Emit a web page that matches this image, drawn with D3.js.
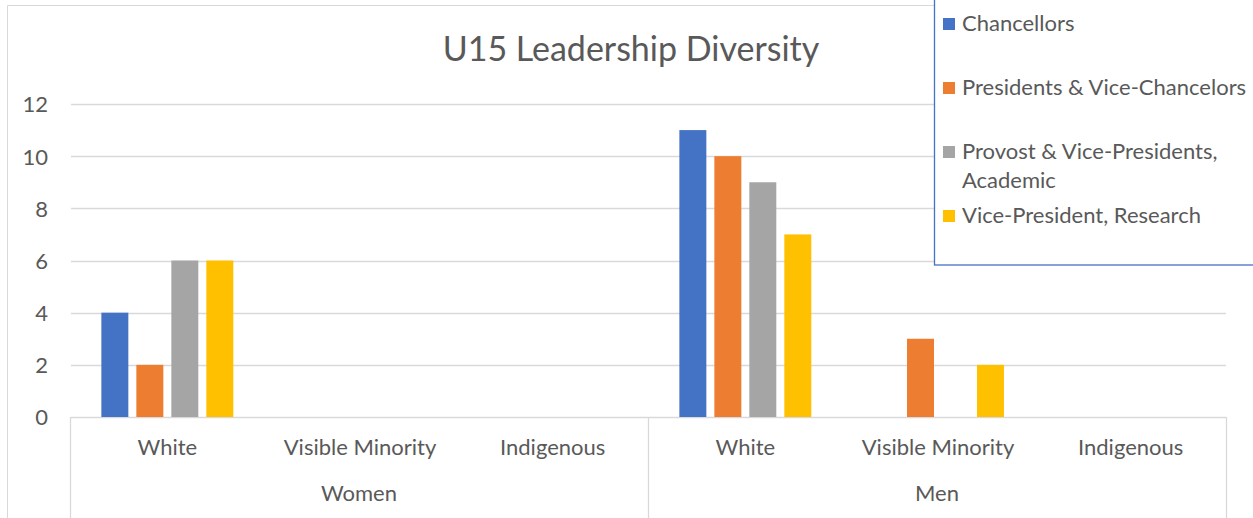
<!DOCTYPE html>
<html><head><meta charset="utf-8">
<script src="https://cdn.jsdelivr.net/npm/d3@7"></script>
<style>
body{margin:0;background:#fff}
svg{display:block}
text{font-family:Lato, "Open Sans", sans-serif; fill:#595959}
</style></head>
<body><svg id="chart" width="1253" height="518"></svg>
<script>
const title = "U15 Leadership Diversity";
const groups = ["Women", "Men"];
const subcategories = ["White", "Visible Minority", "Indigenous"];
const seriesNames = ["Chancellors", "Presidents & Vice-Chancelors", "Provost & Vice-Presidents, Academic", "Vice-President, Research"];
const legendLines = [["Chancellors"], ["Presidents & Vice-Chancelors"], ["Provost & Vice-Presidents,", "Academic"], ["Vice-President, Research"]];
// values in order: Women-White, Women-Visible Minority, Women-Indigenous, Men-White, Men-Visible Minority, Men-Indigenous
const chancellors = [4, 0, 0, 11, 0, 0];
const presidents  = [2, 0, 0, 10, 3, 0];
const provosts    = [6, 0, 0, 9, 0, 0];
const vpResearch  = [6, 0, 0, 7, 2, 0];
const yTicks = [0, 2, 4, 6, 8, 10, 12];
const colors = ["#4472C4", "#ED7D31", "#A5A5A5", "#FFC000"];

const seriesValues = [chancellors, presidents, provosts, vpResearch];
const categories = [];
groups.forEach(g => subcategories.forEach(s => categories.push({group: g, sub: s, key: g + "|" + s})));

const svg = d3.select("#chart");
const plot = {left: 70, right: 1226, top: 104, bottom: 417};

// chart border
svg.append("path").attr("d", "M7.5,530 V5.5 H1260").attr("fill", "none").attr("stroke", "#d9d9d9").attr("stroke-width", 1);

const y = d3.scaleLinear().domain([0, 12]).range([plot.bottom, plot.top]);
const x0 = d3.scaleBand().domain(categories.map(c => c.key)).range([plot.left + 1, plot.right + 1]).padding(0);
const x1 = d3.scaleBand().domain(d3.range(seriesNames.length)).range([0, x0.bandwidth()]).paddingInner(0.229).paddingOuter(0.868);
const xg = d3.scaleBand().domain(groups).range([plot.left, plot.right]).padding(0);

// gridlines
svg.append("g").selectAll("line").data(yTicks).join("line")
  .attr("x1", plot.left + 1).attr("x2", plot.right)
  .attr("y1", d => Math.round(y(d)) + 0.5).attr("y2", d => Math.round(y(d)) + 0.5)
  .attr("stroke", "#d9d9d9").attr("stroke-width", 1.3);

// y axis labels
const yAxis = d3.axisLeft(y).tickValues(yTicks).tickSize(0).tickPadding(0);
const ya = svg.append("g").attr("transform", "translate(48,0)").call(yAxis);
ya.select(".domain").remove();
ya.selectAll("text").style("font-size", "22px").attr("fill", "#595959").attr("font-family", "Lato").attr("dy", "0.36em");

// bars
const barData = [];
seriesValues.forEach((vals, si) => vals.forEach((v, ci) => barData.push({si, key: categories[ci].key, v})));
svg.append("g").selectAll("rect").data(barData.filter(d => d.v > 0)).join("rect")
  .attr("x", d => x0(d.key) + x1(d.si))
  .attr("width", x1.bandwidth())
  .attr("y", d => y(d.v))
  .attr("height", d => y(0) - y(d.v))
  .attr("fill", d => colors[d.si]);

// category separators (group boundaries)
const seps = groups.map(g => xg(g)).concat([xg(groups[groups.length - 1]) + xg.bandwidth()]);
svg.append("g").selectAll("line").data(seps).join("line")
  .attr("x1", d => Math.round(d) + 0.5).attr("x2", d => Math.round(d) + 0.5)
  .attr("y1", plot.bottom).attr("y2", 530)
  .attr("stroke", "#d9d9d9").attr("stroke-width", 1.3);

// subcategory labels
svg.append("g").selectAll("text").data(categories).join("text")
  .attr("x", d => x0(d.key) + x0.bandwidth() / 2)
  .attr("y", 455)
  .attr("text-anchor", "middle")
  .style("font-size", "22px")
  .text(d => d.sub);

// group labels
svg.append("g").selectAll("text").data(groups).join("text")
  .attr("x", d => xg(d) + xg.bandwidth() / 2)
  .attr("y", 501)
  .attr("text-anchor", "middle")
  .style("font-size", "22px")
  .text(d => d);

// title
svg.append("text").attr("x", 631).attr("y", 61).attr("text-anchor", "middle")
  .style("font-size", "34px").text(title);

// legend
const lg = svg.append("g");
lg.append("rect").attr("x", 934.5).attr("y", -10).attr("width", 400).attr("height", 275)
  .attr("fill", "#fff").attr("stroke", "#4472C4").attr("stroke-width", 1.3);
const items = lg.selectAll("g.item").data(seriesNames).join("g").attr("class", "item")
  .attr("transform", (d, i) => `translate(0,${31 + i * 64})`);
items.append("rect").attr("x", 943).attr("y", -13).attr("width", 12).attr("height", 12)
  .attr("fill", (d, i) => colors[i]);
items.append("text").attr("x", 962).attr("y", 0).style("font-size", "22px")
  .each(function(d, i) {
    const t = d3.select(this);
    legendLines[i].forEach((line, li) => t.append("tspan").attr("x", 962).attr("dy", li === 0 ? 0 : 29).text(line));
  });
</script>
</body></html>
